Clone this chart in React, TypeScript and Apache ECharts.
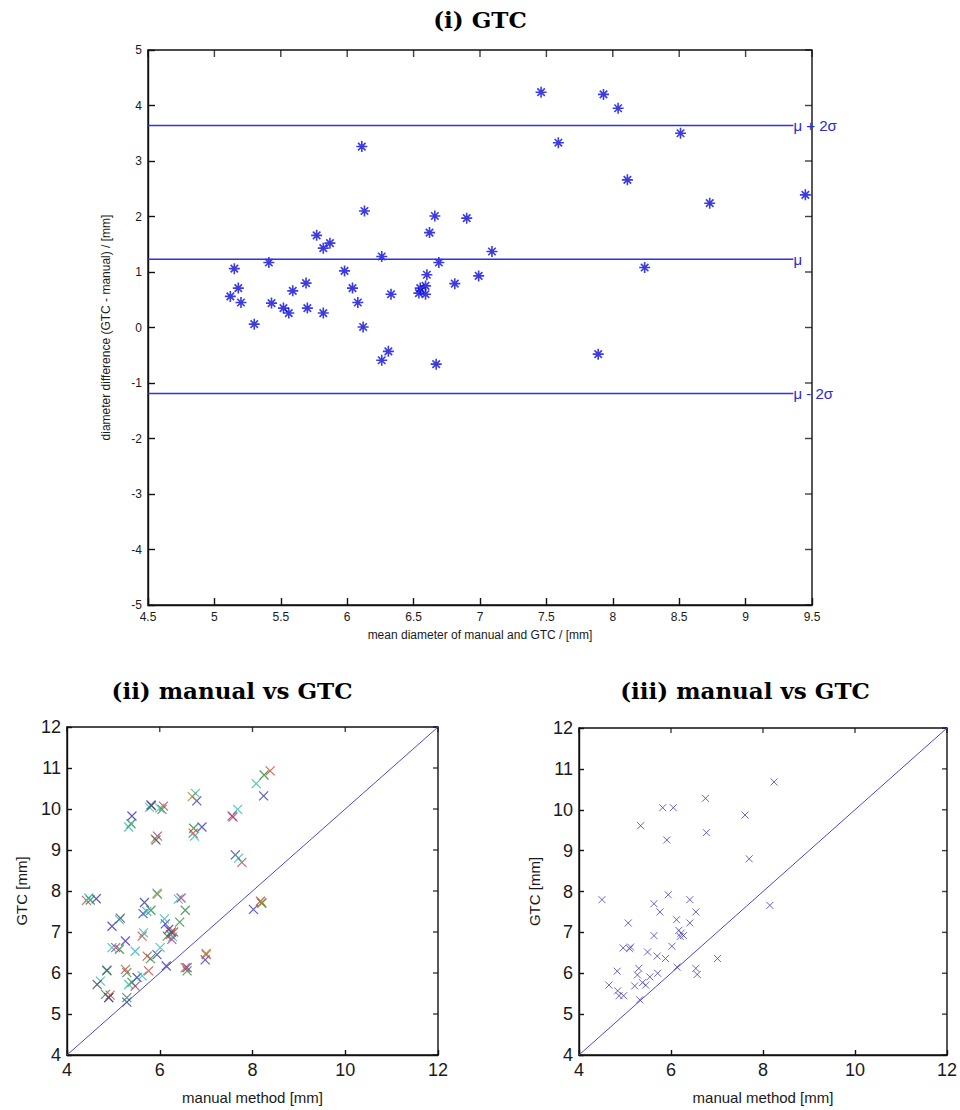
import React, { useEffect, useRef } from "react";
import * as echarts from "echarts";

// ---------- (i) GTC : Bland-Altman style data ----------
const baMean: number[] = [
  7.46, 7.93, 8.04, 8.51, 8.11, 8.73, 9.45, 8.24, 7.59, 6.11,
  6.13, 6.66, 6.90, 6.62, 5.77, 5.82, 5.87, 7.09, 6.26, 5.41,
  6.69, 5.15, 5.98, 6.60, 6.99, 5.69, 6.81, 5.18, 6.04, 5.59,
  6.59, 6.55, 6.33, 6.54, 6.59, 5.12, 5.20, 5.43, 6.08, 5.52,
  5.70, 5.56, 5.82, 5.30, 6.12, 6.26, 6.31, 6.67, 7.89,
];
const baDiff: number[] = [
  4.24, 4.20, 3.95, 3.50, 2.66, 2.24, 2.39, 1.08, 3.33, 3.26,
  2.10, 2.01, 1.97, 1.71, 1.66, 1.43, 1.52, 1.37, 1.28, 1.17,
  1.17, 1.06, 1.02, 0.95, 0.93, 0.80, 0.79, 0.71, 0.71, 0.66,
  0.75, 0.71, 0.60, 0.62, 0.60, 0.56, 0.45, 0.44, 0.45, 0.35,
  0.35, 0.26, 0.26, 0.06, 0.01, -0.59, -0.43, -0.66, -0.48,
];
const refLevels: number[] = [3.64, 1.23, -1.19];
const refLabels: string[] = ["μ + 2σ", "μ", "μ - 2σ"];
const refStartX = 4.5;
const refEndX = 9.36;
const ticksXi: number[] = [4.5, 5, 5.5, 6, 6.5, 7, 7.5, 8, 8.5, 9, 9.5];
const ticksYi: number[] = [-5, -4, -3, -2, -1, 0, 1, 2, 3, 4, 5];

// ---------- (ii) manual vs GTC : several runs, MATLAB colour order ----------
const runBlue: number[][] = [
  [5.40, 9.83], [5.81, 10.10], [6.80, 10.20], [6.91, 9.56], [8.24, 10.32], [7.63, 8.88],
  [4.63, 7.81], [5.67, 7.72], [5.64, 7.45], [4.97, 7.14], [6.19, 7.06], [5.26, 6.78],
  [5.94, 6.45], [6.14, 6.17], [4.86, 6.07], [5.51, 5.89], [6.98, 6.32], [5.29, 5.29],
  [8.02, 7.55], [6.12, 7.20], [6.59, 6.13], [4.90, 5.40],
];
const runGreen: number[][] = [
  [5.38, 9.64], [6.05, 9.99], [6.73, 9.53], [8.25, 10.83], [5.81, 7.53], [6.55, 7.53],
  [6.43, 7.24], [6.16, 6.90], [5.13, 6.58], [5.80, 6.35], [4.86, 6.05], [5.29, 6.01],
  [6.59, 6.05], [4.83, 5.48], [5.40, 5.77], [5.29, 5.40], [8.20, 7.70], [4.50, 7.78],
];
const runRed: number[][] = [
  [6.08, 10.07], [6.72, 9.41], [7.77, 8.70], [8.38, 10.93], [4.42, 7.77], [5.62, 6.90],
  [5.73, 6.41], [5.26, 6.09], [5.76, 6.05], [6.55, 6.13], [7.00, 6.45], [4.93, 5.46],
  [8.17, 7.75], [6.23, 6.94], [7.58, 9.80], [6.30, 7.00],
];
const runCyan: number[][] = [
  [5.33, 9.56], [5.78, 10.04], [6.00, 10.02], [6.77, 10.38], [6.75, 9.34], [7.68, 9.99],
  [8.08, 10.62], [7.70, 8.80], [4.47, 7.83], [5.94, 7.95], [5.72, 7.50], [5.13, 7.30],
  [6.10, 7.32], [5.65, 6.98], [4.97, 6.62], [5.47, 6.53], [6.01, 6.62], [5.62, 5.93],
  [4.72, 5.80], [5.33, 5.72], [6.40, 7.80], [6.28, 6.88],
];
const runMagenta: number[][] = [
  [5.95, 9.34], [7.56, 9.83], [6.46, 7.83], [6.26, 6.82], [5.47, 5.68], [5.05, 6.62],
];
const runOlive: number[][] = [
  [6.70, 10.30], [5.90, 9.27], [7.00, 6.48], [8.20, 7.72], [5.95, 7.92],
];
const runGray: number[][] = [
  [5.92, 9.24], [5.82, 10.08], [4.65, 5.72], [5.15, 7.34], [4.90, 5.40], [6.25, 7.00],
];

// ---------- (iii) manual vs GTC : single run ----------
const manualIII: number[] = [
  4.50, 5.34, 5.82, 6.05, 5.91, 6.75, 6.77, 5.94, 5.63, 5.76,
  6.41, 6.54, 5.07, 6.12, 6.41, 8.24, 7.61, 7.70, 8.15, 6.17,
  6.22, 6.27, 6.20, 5.63, 4.96, 5.12, 5.10, 6.02, 5.49, 5.70,
  5.88, 7.01, 4.83, 5.30, 5.27, 5.71, 5.54, 6.13, 6.54, 6.57,
  4.65, 4.84, 4.87, 4.97, 5.21, 5.38, 5.45, 5.32,
];
const gtcIII: number[] = [
  7.80, 9.61, 10.05, 10.05, 9.26, 10.28, 9.44, 7.92, 7.70, 7.50,
  7.80, 7.50, 7.23, 7.31, 7.23, 10.68, 9.87, 8.80, 7.66, 7.05,
  6.98, 6.92, 6.90, 6.92, 6.62, 6.64, 6.60, 6.66, 6.52, 6.42,
  6.36, 6.36, 6.05, 6.12, 5.96, 6.00, 5.91, 6.15, 6.12, 5.97,
  5.71, 5.57, 5.45, 5.45, 5.69, 5.77, 5.71, 5.35,
];
const identityLine: number[][] = [[4, 4], [12, 12]];
const ticksXb: number[] = [4, 6, 8, 10, 12];
const ticksYb: number[] = [4, 5, 6, 7, 8, 9, 10, 11, 12];

const SANS = '"Liberation Sans", Arial, sans-serif';
const SERIF = '"DejaVu Serif", serif';
const ASTERISK = "path://M5,0L5,10M0,5L10,5M1.6,1.6L8.4,8.4M8.4,1.6L1.6,8.4";
const CROSS = "path://M0,0L10,10M10,0L0,10";
const TXT = "#1a1a1a";
const FRAME = "#111111";
const FRAME_W = 1.4;

function axes(
  xMin: number, xMax: number, xInt: number,
  yMin: number, yMax: number, yInt: number,
  fontSize: number, tickLen: number,
  xName: string, yName: string, xGap: number, yGap: number, nameSize: number
) {
  const line = { show: true, onZero: false, lineStyle: { color: FRAME, width: FRAME_W } };
  const tick = { show: true, inside: true, length: tickLen, lineStyle: { color: FRAME, width: FRAME_W } };
  const lbl = { color: TXT, fontSize, fontFamily: SANS, margin: 6 };
  const nts = { color: TXT, fontSize: nameSize, fontFamily: SANS };
  return {
    xAxis: {
      type: "value", min: xMin, max: xMax, interval: xInt,
      splitLine: { show: false }, axisLine: line, axisTick: tick, axisLabel: lbl,
      name: xName, nameLocation: "middle", nameGap: xGap, nameTextStyle: nts,
    },
    yAxis: {
      type: "value", min: yMin, max: yMax, interval: yInt,
      splitLine: { show: false }, axisLine: line, axisTick: tick, axisLabel: lbl,
      name: yName, nameLocation: "middle", nameGap: yGap, nameTextStyle: nts,
    },
  };
}

// ticks mirrored on the top and right edges, placed through the axes' scales
function mirrorTicks(xt: number[], yt: number[], xMax: number, yMax: number, len: number) {
  return [
    {
      type: "scatter", data: xt.map((v) => [v, yMax]),
      symbol: "rect", symbolSize: [FRAME_W, len], symbolOffset: [0, len / 2],
      itemStyle: { color: FRAME }, silent: true,
    },
    {
      type: "scatter", data: yt.map((v) => [xMax, v]),
      symbol: "rect", symbolSize: [len, FRAME_W], symbolOffset: [-len / 2, 0],
      itemStyle: { color: FRAME }, silent: true,
    },
  ];
}

function titleText(text: string, x: number, y: number) {
  return {
    type: "text", x, y,
    style: { text, font: `bold 23px ${SERIF}`, fill: "#000", textAlign: "center", textVerticalAlign: "middle" },
  };
}

function optionTop() {
  const a = axes(4.5, 9.5, 0.5, -5, 5, 1, 12, 7,
    "mean diameter of manual and GTC / [mm]", "diameter difference (GTC - manual) / [mm]", 24, 36, 12);
  const series: any[] = [];
  refLevels.forEach((v, i) => {
    series.push({
      type: "line",
      data: [[refStartX, v], [refEndX, v]],
      showSymbol: false,
      lineStyle: { color: "#3030e8", width: 1.4 },
      endLabel: { show: true, formatter: refLabels[i], distance: 0, color: "#2b2bd0", fontSize: 15, fontFamily: SANS },
      silent: true,
    });
  });
  series.push({
    type: "scatter",
    data: baMean.map((m, i) => [m, baDiff[i]]),
    symbol: ASTERISK,
    symbolSize: 11,
    itemStyle: { color: "#0000f0", borderColor: "#0a0ad8", borderWidth: 1.6 },
  });
  series.push(...mirrorTicks(ticksXi, ticksYi, 9.5, 5, 7));
  return {
    animation: false,
    grid: { left: 148, top: 50, width: 664, height: 555, show: true, borderColor: FRAME, borderWidth: FRAME_W },
    xAxis: a.xAxis,
    yAxis: a.yAxis,
    series,
    graphic: [titleText("(i) GTC", 480, 19)],
  };
}

function optionBottom(left: boolean) {
  const a = axes(4, 12, 2, 4, 12, 1, 18, 5, "manual method [mm]", "GTC [mm]", 35, left ? 38 : 36, 15);
  const series: any[] = [];
  if (left) {
    const runs: [number[][], string][] = [
      [runBlue, "#3434b8"],
      [runGreen, "#2a8a3a"],
      [runRed, "#d0403a"],
      [runCyan, "#30b8b0"],
      [runMagenta, "#a83a8a"],
      [runOlive, "#9a8a30"],
      [runGray, "#505060"],
    ];
    runs.forEach(([d, c]) => {
      series.push({
        type: "scatter", data: d, symbol: CROSS, symbolSize: 9,
        itemStyle: { color: c, borderColor: c, borderWidth: 1.2 },
      });
    });
  } else {
    series.push({
      type: "scatter",
      data: manualIII.map((m, i) => [m, gtcIII[i]]),
      symbol: CROSS, symbolSize: 7,
      itemStyle: { color: "#4040b8", borderColor: "#4040b8", borderWidth: 1 },
    });
  }
  series.push({
    type: "line", data: identityLine, showSymbol: false,
    lineStyle: { color: "#4a4ad0", width: 1 }, silent: true,
  });
  series.push(...mirrorTicks(ticksXb, ticksYb, 12, 12, 5));
  return {
    animation: false,
    grid: left
      ? { left: 67, top: 77, width: 371, height: 329, show: true, borderColor: FRAME, borderWidth: FRAME_W }
      : { left: 99, top: 78, width: 368, height: 328, show: true, borderColor: FRAME, borderWidth: FRAME_W },
    xAxis: a.xAxis,
    yAxis: a.yAxis,
    series,
    graphic: [left ? titleText("(ii) manual vs GTC", 232, 40) : titleText("(iii) manual vs GTC", 265, 40)],
  };
}

function Panel(props: { option: () => any; style: React.CSSProperties }) {
  const ref = useRef<HTMLDivElement>(null);
  useEffect(() => {
    if (!ref.current) return;
    const chart = echarts.init(ref.current, null, { renderer: "svg" });
    chart.setOption(props.option());
    return () => chart.dispose();
  }, []);
  return <div ref={ref} style={{ position: "absolute", ...props.style }} />;
}

export default function App() {
  return (
    <div style={{ position: "absolute", left: 0, top: 0, width: 960, height: 1110, background: "#fff" }}>
      <Panel option={optionTop} style={{ left: 0, top: 0, width: 960, height: 650 }} />
      <Panel option={() => optionBottom(true)} style={{ left: 0, top: 650, width: 480, height: 460 }} />
      <Panel option={() => optionBottom(false)} style={{ left: 480, top: 650, width: 480, height: 460 }} />
    </div>
  );
}
